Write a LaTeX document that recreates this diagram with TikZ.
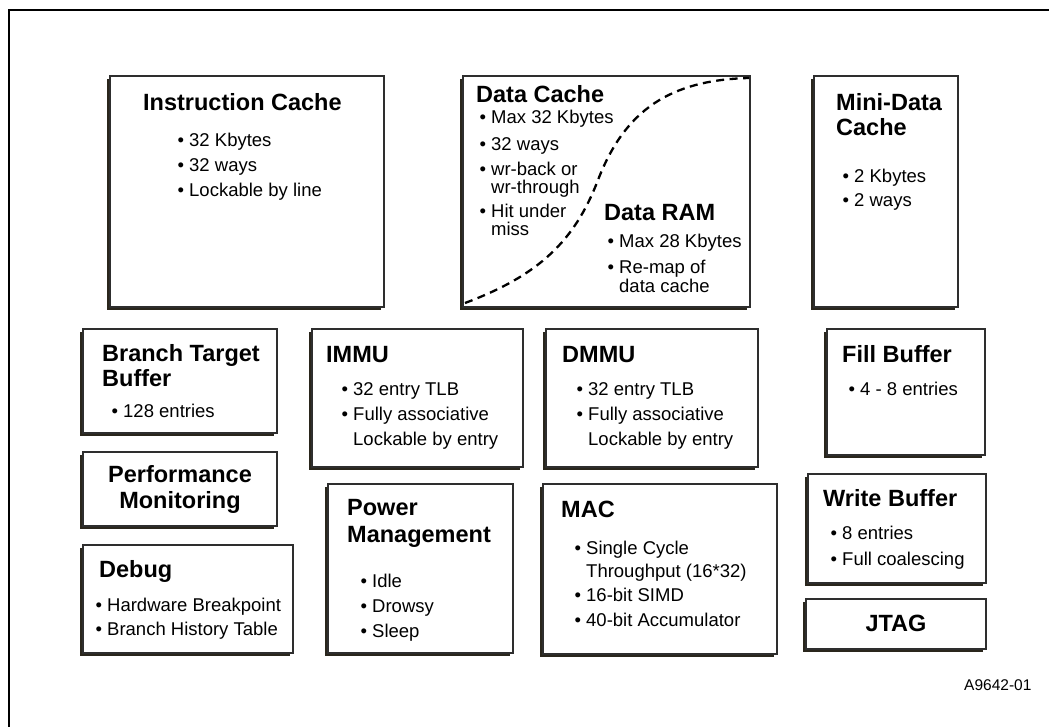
\documentclass[tikz,border=0pt]{standalone}
\usepackage{fontspec}
\setmainfont{Liberation Sans}
\definecolor{boxline}{HTML}{2E2E2E}
\definecolor{shadowc}{HTML}{2A261C}
\newcommand\bu{\llap{•\hspace{5pt}}}
\newcommand\blk[5]{%
  \fill[shd] (#2-3,#3+3) rectangle (#4-3,#5+3);
  \draw[blkline] (#2,#3) coordinate (#1-nw) rectangle (#4,#5) coordinate (#1-se);}
\begin{document}
\begin{tikzpicture}[x=1pt,y=-1pt,
  ttl/.style={font=\bfseries\fontsize{23.5}{26}\selectfont, anchor=base west, inner sep=0pt},
  ctr/.style={font=\bfseries\fontsize{23.5}{26}\selectfont, anchor=base, inner sep=0pt},
  txt/.style={font=\fontsize{18.5}{22}\selectfont, anchor=base west, inner sep=0pt},
  lbl/.style={font=\fontsize{15.5}{18}\selectfont, anchor=base west, inner sep=0pt},
  frame/.style={line width=2pt},
  blkline/.style={draw=boxline, line width=1.6pt, fill=white},
  shd/.style={fill=shadowc},
  sep/.style={dash pattern=on 8pt off 5.5pt, line width=2.3pt}
]
\useasboundingbox (0,0) rectangle (1049,727);
\draw[frame] (9,727) coordinate (fbl) -- (9,10) coordinate (ftl) -- (1049,10) coordinate (ftr);

% Boxes
\blk{ic}{110}{76}{384}{307}
\blk{dc}{463}{76}{750}{307}
\blk{mdc}{814}{76}{958}{307}
\blk{btb}{83}{329}{277}{433}
\blk{immu}{312}{329}{523}{467}
\blk{dmmu}{546}{329}{758}{467}
\blk{fill}{827}{329}{985}{455}
\blk{perf}{83}{452}{277}{526}
\blk{debug}{83}{545}{293}{653}
\blk{pm}{328}{484}{513}{653}
\blk{mac}{543}{484}{777}{654}
\blk{wb}{808}{474}{986}{583}
\blk{jtag}{806}{599}{986}{649}

% Dashed divider in data cache
\coordinate (s0) at (465,303);
\coordinate (s1) at (598,180);
\coordinate (s2) at (749,78);
\draw[sep] (s0) .. controls (540,275) and (575,240) .. (s1)
               .. controls (625,110) and (670,80) .. (s2);

% Instruction Cache
\node[ttl] (ict) at (143,111) {Instruction Cache};
\node[txt] (ic1) at (189,147) {\bu 32 Kbytes};
\node[txt] (ic2) at (189,172) {\bu 32 ways};
\node[txt] (ic3) at (189,197) {\bu Lockable by line};

% Data Cache
\node[ttl] (dct) at (476,103) {Data Cache};
\node[txt] (dc1) at (491,124) {\bu Max 32 Kbytes};
\node[txt] (dc2) at (491,151) {\bu 32 ways};
\node[txt] (dc3) at (491,176) {\bu wr-back or};
\node[txt] (dc4) at (491,194) {wr-through};
\node[txt] (dc5) at (491,218) {\bu Hit under};
\node[txt] (dc6) at (491,236) {miss};
\node[ttl] (drt) at (604,221) {Data RAM};
\node[txt] (dr1) at (619,248) {\bu Max 28 Kbytes};
\node[txt] (dr2) at (619,273) {\bu Re-map of};
\node[txt] (dr3) at (619,292) {data cache};

% Mini-Data Cache
\node[ttl] (mdt1) at (836,111) {Mini-Data};
\node[ttl] (mdt2) at (836,136) {Cache};
\node[txt] (md1) at (854,183) {\bu 2 Kbytes};
\node[txt] (md2) at (854,207) {\bu 2 ways};

% Branch Target Buffer
\node[ttl] (btbt1) at (102,361) {Branch Target};
\node[ttl] (btbt2) at (102,386) {Buffer};
\node[txt] (btb1) at (123,417) {\bu 128 entries};

% IMMU
\node[ttl] (immut) at (326,362) {IMMU};
\node[txt] (immu1) at (353,395) {\bu 32 entry TLB};
\node[txt] (immu2) at (353,420) {\bu Fully associative};
\node[txt] (immu3) at (353,445) {Lockable by entry};

% DMMU
\node[ttl] (dmmut) at (562,362) {DMMU};
\node[txt] (dmmu1) at (588,395) {\bu 32 entry TLB};
\node[txt] (dmmu2) at (588,420) {\bu Fully associative};
\node[txt] (dmmu3) at (588,445) {Lockable by entry};

% Fill Buffer
\node[ttl] (fillt) at (842,362) {Fill Buffer};
\node[txt] (fill1) at (860,395) {\bu 4 - 8 entries};

% Performance Monitoring
\node[ctr] (perf1) at (180,482) {Performance};
\node[ctr] (perf2) at (180,508) {Monitoring};

% Debug
\node[ttl] (debugt) at (99,577) {Debug};
\node[txt] (debug1) at (107,611) {\bu Hardware Breakpoint};
\node[txt] (debug2) at (107,635) {\bu Branch History Table};

% Power Management
\node[ttl] (pmt1) at (347,515) {Power};
\node[ttl] (pmt2) at (347,542) {Management};
\node[txt] (pm1) at (372,587) {\bu Idle};
\node[txt] (pm2) at (372,612) {\bu Drowsy};
\node[txt] (pm3) at (372,637) {\bu Sleep};

% MAC
\node[ttl] (mact) at (561,517) {MAC};
\node[txt] (mac1) at (586,554) {\bu Single Cycle};
\node[txt] (mac2) at (586,577) {Throughput (16*32)};
\node[txt] (mac3) at (586,601) {\bu 16-bit SIMD};
\node[txt] (mac4) at (586,626) {\bu 40-bit Accumulator};

% Write Buffer
\node[ttl] (wbt) at (823,506) {Write Buffer};
\node[txt] (wb1) at (842,539) {\bu 8 entries};
\node[txt] (wb2) at (842,565) {\bu Full coalescing};

% JTAG
\node[ctr] (jtagt) at (896,631) {JTAG};

% figure label
\node[lbl] (fig) at (964,690) {A9642-01};
\end{tikzpicture}
\end{document}
